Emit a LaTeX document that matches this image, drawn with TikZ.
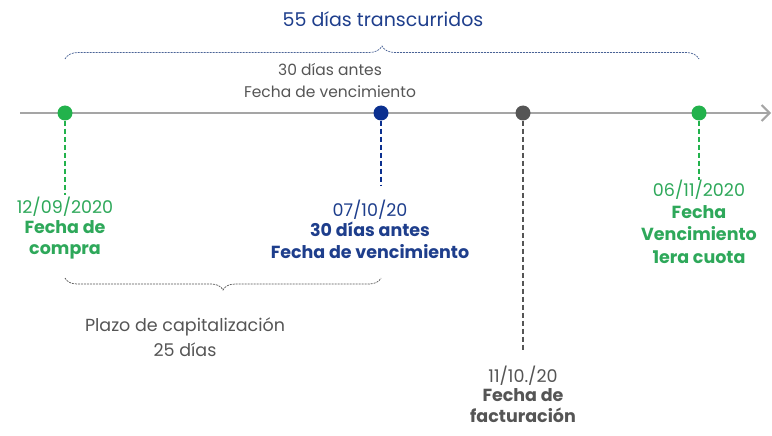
\documentclass[tikz,border=0pt]{standalone}
\usepackage{fontspec}
\setmainfont{Poppins}
\usetikzlibrary{arrows.meta,decorations.pathreplacing}
\definecolor{cgreen}{HTML}{22B24C}
\definecolor{tgreen}{HTML}{2EA85A}
\definecolor{cblue}{HTML}{0B2F8F}
\definecolor{tblue}{HTML}{1E3E8C}
\definecolor{cgray}{HTML}{555555}
\definecolor{tgray}{HTML}{555555}
\definecolor{axisgray}{HTML}{A5A5A5}
\definecolor{bracecol}{HTML}{4A6396}
\tikzset{
  dot/.style={circle,fill=#1,minimum size=15pt,inner sep=0pt},
  drop/.style={draw=#1,dashed,line width=1.6pt,dash pattern=on 5pt off 3pt},
  lbl/.style={align=center,inner sep=0pt,font=\fontsize{17.5}{22}\selectfont},
  bld/.style={align=center,inner sep=0pt,anchor=north,font=\fontsize{17.5}{21.5}\selectfont\bfseries},
  hdr/.style={align=center,inner sep=0pt,font=\fontsize{15.5}{22}\selectfont},
  bracestyle/.style={draw=#1,line width=0.7pt,dash pattern=on 2pt off 1pt,decorate}
}
\begin{document}
\begin{tikzpicture}[x=1pt,y=-1pt]
\useasboundingbox (0,0) rectangle (772,436);
% axis
\coordinate (axs) at (20,113);
\coordinate (axe) at (771,113);
\draw[axisgray,line width=2.6pt,-{Straight Barb[length=8pt,width=16pt,line width=2pt]}] (axs) -- (axe);
% dots
\node[dot=cgreen] (d1) at (65,113) {};
\node[dot=cblue] (d2) at (381,113) {};
\node[dot=cgray] (d3) at (523,113) {};
\node[dot=cgreen] (d4) at (699,113) {};
% drops
\coordinate (e1) at (65,195);
\coordinate (e2) at (381,186);
\coordinate (e3) at (523,352);
\coordinate (e4) at (699,180);
\draw[drop=cgreen] (d1) -- (e1);
\draw[drop=cblue] (d2) -- (e2);
\draw[drop=cgray] (d3) -- (e3);
\draw[drop=cgreen] (d4) -- (e4);
% top brace
\coordinate (tb1) at (65,59);
\coordinate (tb2) at (699,59);
\draw[bracestyle=bracecol,decoration={brace,amplitude=13pt,aspect=0.5}] (tb1) -- (tb2);
\node[lbl,text=tblue,font=\fontsize{19}{22}\selectfont] (t55) at (383,19) {55 días transcurridos};
\node[hdr,text=tgray] (t30) at (330,70) {30 días antes};
\node[hdr,text=tgray] (tfv) at (330,92) {Fecha de vencimiento};
% bottom brace
\coordinate (bb1) at (65,278);
\coordinate (bb2) at (381,278);
\draw[bracestyle=tgray,decoration={brace,mirror,amplitude=12pt,aspect=0.5}] (bb1) -- (bb2);
\node[lbl,text=tgray] (plazo) at (185,327) {Plazo de capitalización};
\node[lbl,text=tgray] (p25) at (185,350) {25 días};
% labels 1
\node[lbl,text=tgreen] (l1a) at (65,207) {12/09/2020};
\node[bld,text=tgreen] (l1b) at (65,220) {Fecha de\\compra};
% labels 2
\node[lbl,text=tblue] (l2a) at (370,210) {07/10/20};
\node[bld,text=tblue] (l2b) at (370,222) {30 días antes\\Fecha de vencimiento};
% labels 3
\node[lbl,text=tgray] (l3a) at (523,376) {11/10./20};
\node[bld,text=tgray] (l3b) at (523,388) {Fecha de\\facturación};
% labels 4
\node[lbl,text=tgreen] (l4a) at (699,190) {06/11/2020};
\node[bld,text=tgreen,font=\fontsize{17.5}{22.5}\selectfont\bfseries] (l4b) at (699,205) {Fecha\\Vencimiento\\1era cuota};
\end{tikzpicture}
\end{document}
